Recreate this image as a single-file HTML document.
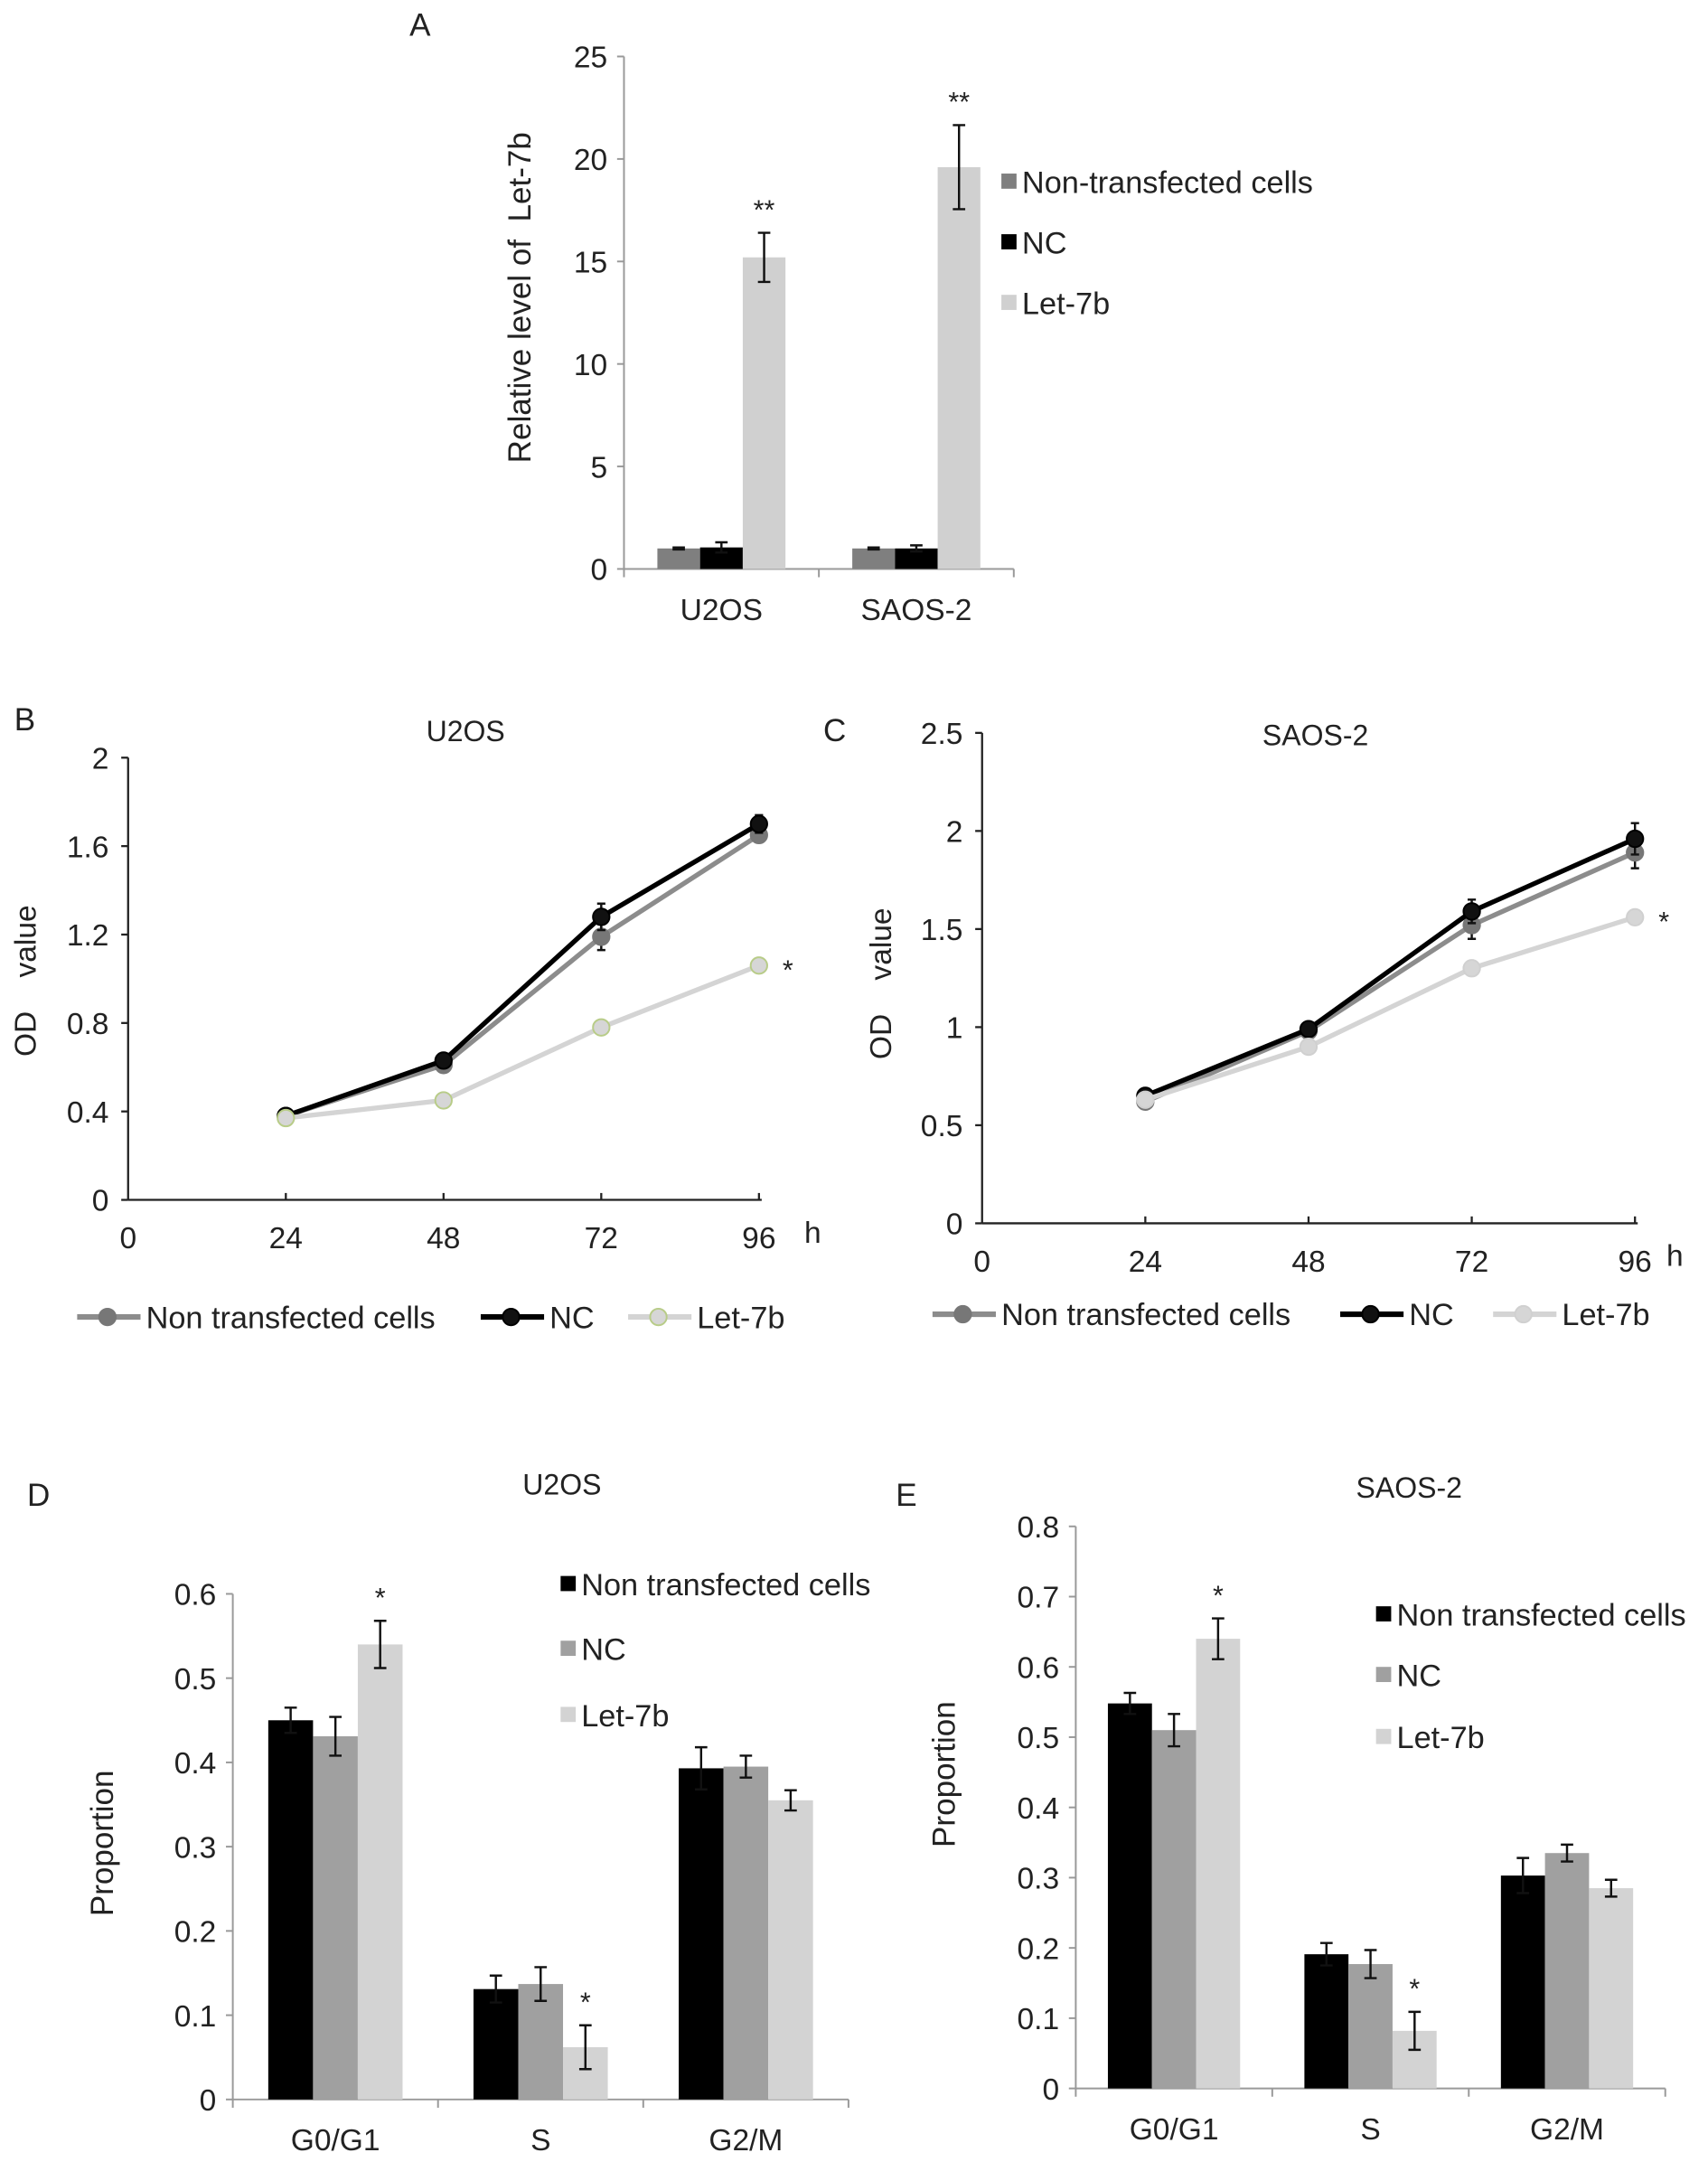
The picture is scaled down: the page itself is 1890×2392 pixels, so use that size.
<!DOCTYPE html>
<html><head><meta charset="utf-8"><style>
html,body{margin:0;padding:0;background:#fff}
svg{display:block}
text{font-family:"Liberation Sans",Arial,sans-serif;fill:#222;white-space:pre}
</style></head><body>
<svg id="fig" width="1890" height="2392" viewBox="0 0 1240 1569.4" xmlns="http://www.w3.org/2000/svg"></svg>
<script>
// ---- Panel A data ----
const aCategories = ["U2OS", "SAOS-2"];
const aNonTrans = [1.0, 1.0];
const aNonTransErr = [0.05, 0.05];
const aNC = [1.05, 1.0];
const aNCErr = [0.25, 0.15];
const aLet = [15.2, 19.6];
const aLetErr = [1.2, 2.05];
const aTicks = [0, 5, 10, 15, 20, 25];
// ---- Panel B data ----
const bHours = [24, 48, 72, 96];
const bNonTrans = [0.38, 0.61, 1.19, 1.65];
const bNonTransErr = [0.01, 0.02, 0.06, 0.03];
const bNC = [0.38, 0.63, 1.28, 1.70];
const bNCErr = [0.01, 0.02, 0.06, 0.04];
const bLet = [0.37, 0.45, 0.78, 1.06];
const bYTicks = [0, 0.4, 0.8, 1.2, 1.6, 2];
const bYLabels = ["0", "0.4", "0.8", "1.2", "1.6", "2"];
const xTicks = [0, 24, 48, 72, 96];
// ---- Panel C data ----
const cNonTrans = [0.62, 0.98, 1.52, 1.89];
const cNonTransErr = [0.02, 0.02, 0.07, 0.08];
const cNC = [0.65, 0.99, 1.59, 1.96];
const cNCErr = [0.02, 0.02, 0.06, 0.08];
const cLet = [0.63, 0.90, 1.30, 1.56];
const cYTicks = [0, 0.5, 1, 1.5, 2, 2.5];
const cYLabels = ["0", "0.5", "1", "1.5", "2", "2.5"];
// ---- Panel D data ----
const phases = ["G0/G1", "S", "G2/M"];
const dNonTrans = [0.45, 0.131, 0.393];
const dNonTransErr = [0.015, 0.016, 0.025];
const dNC = [0.431, 0.137, 0.395];
const dNCErr = [0.023, 0.02, 0.013];
const dLet = [0.54, 0.062, 0.355];
const dLetErr = [0.028, 0.026, 0.012];
const dTicks = [0, 0.1, 0.2, 0.3, 0.4, 0.5, 0.6];
// ---- Panel E data ----
const eNonTrans = [0.548, 0.191, 0.303];
const eNonTransErr = [0.015, 0.016, 0.025];
const eNC = [0.51, 0.177, 0.335];
const eNCErr = [0.023, 0.02, 0.012];
const eLet = [0.64, 0.082, 0.285];
const eLetErr = [0.029, 0.027, 0.012];
const eTicks = [0, 0.1, 0.2, 0.3, 0.4, 0.5, 0.6, 0.7, 0.8];

const NS = "http://www.w3.org/2000/svg";
const svg = document.getElementById("fig");
function el(tag, attrs, parent, txt) {
  const e = document.createElementNS(NS, tag);
  for (const k in attrs) e.setAttribute(k, attrs[k]);
  if (txt !== undefined) e.textContent = txt;
  (parent || svg).appendChild(e);
  return e;
}
function group(name) {
  const g = el("g", {});
  
  
  return g;
}
function txt(g, x, y, s, size, anchor, name, extra) {
  const t = el("text", Object.assign({x: x, y: y, "font-size": size, "text-anchor": anchor || "middle"}, extra || {}), g, s);
  
  
  return t;
}
function errbar(g, x, y1, y2, cap) {
  const e = el("path", {d: `M${x - cap} ${y1}H${x + cap}M${x} ${y1}V${y2}M${x - cap} ${y2}H${x + cap}`, stroke: "#111", "stroke-width": 1.6, fill: "none"}, g);
  
  
}

function barChart(o) {
  const g = group(o.name);
  const y = v => o.y0 - (v - o.ymin) / (o.ymax - o.ymin) * (o.y0 - o.y1);
  const cw = (o.x1 - o.x0) / o.cats.length;
  el("line", {x1: o.x0, y1: o.y1, x2: o.x0, y2: o.y0, stroke: "#999", "stroke-width": 1.3}, g);
  el("line", {x1: o.x0, y1: o.y0, x2: o.x1, y2: o.y0, stroke: "#999", "stroke-width": 1.3}, g);
  o.ticks.forEach(t => {
    el("line", {x1: o.x0 - 5, y1: y(t), x2: o.x0, y2: y(t), stroke: "#999", "stroke-width": 1.3}, g);
    txt(g, o.x0 - 12, y(t) + 8, o.tickFmt(t), 22, "end", "y-tick-label");
  });
  for (let i = 0; i <= o.cats.length; i++) {
    el("line", {x1: o.x0 + i * cw, y1: o.y0, x2: o.x0 + i * cw, y2: o.y0 + 6, stroke: "#999", "stroke-width": 1.3}, g);
  }
  o.cats.forEach((c, i) => {
    const cx = o.x0 + cw * (i + 0.5);
    txt(g, cx, o.y0 + 37, c, 22, "middle", "x-tick-label");
    o.series.forEach((s, j) => {
      const bx = cx - 1.5 * o.bw + j * o.bw;
      const v = s.vals[i];
      const r = el("rect", {x: bx, y: y(v), width: o.bw, height: o.y0 - y(v), fill: s.color}, g);
      
      
      const e = s.err[i];
      errbar(g, bx + o.bw / 2, y(v + e), y(v - e), 4.5);
      if (s.stars && s.stars[i]) txt(g, bx + o.bw / 2, y(v + e) - 10, s.stars[i], 20, "middle", "significance-mark", {fill: "#666"});
    });
  });
  return g;
}

function lineChart(o) {
  const g = group(o.name);
  const x = v => o.x0 + v / 96 * (o.x1 - o.x0);
  const y = v => o.y0 - v / o.ymax * (o.y0 - o.y1);
  el("line", {x1: o.x0, y1: o.y1, x2: o.x0, y2: o.y0, stroke: "#222", "stroke-width": 1.5}, g);
  el("line", {x1: o.x0, y1: o.y0, x2: o.x1 + 2, y2: o.y0, stroke: "#222", "stroke-width": 1.5}, g);
  o.yTicks.forEach((t, i) => {
    el("line", {x1: o.x0 - 5, y1: y(t), x2: o.x0, y2: y(t), stroke: "#222", "stroke-width": 1.5}, g);
    txt(g, o.x0 - 14, y(t) + 8, o.yLabels[i], 22, "end", "y-tick-label");
  });
  xTicks.forEach(t => {
    if (t > 0) el("line", {x1: x(t), y1: o.y0 - 5, x2: x(t), y2: o.y0, stroke: "#222", "stroke-width": 1.5}, g);
    txt(g, x(t), o.y0 + 35, String(t), 22, "middle", "x-tick-label");
  });
  txt(g, o.x1 + o.hdx, o.y0 + 31, "h", 22, "middle", "x-axis-unit");
  o.series.forEach(s => {
    const pts = bHours.map((h, i) => `${x(h)},${y(s.vals[i])}`).join(" ");
    const pl = el("polyline", {points: pts, fill: "none", stroke: s.color, "stroke-width": 3.5}, g);
    
    
    bHours.forEach((h, i) => {
      if (s.err) errbar(g, x(h), y(s.vals[i] + s.err[i]), y(s.vals[i] - s.err[i]), 3);
      const c = el("circle", {cx: x(h), cy: y(s.vals[i]), r: 6, fill: s.fill, stroke: s.stroke, "stroke-width": 1.3}, g);
      
      
    });
  });
  const last = o.series[2].vals[3];
  txt(g, x(96) + 21, y(last) + 10, "*", 20, "middle", "significance-mark", {fill: "#555"});
  return g;
}

function legendLine(g, x, y, color, fill, stroke, label, key) {
  const lg = el("g", {}, g);
  
  
  el("line", {x1: x, y1: y, x2: x + 46, y2: y, stroke: color, "stroke-width": 4}, lg);
  el("circle", {cx: x + 22, cy: y, r: 6, fill: fill, stroke: stroke, "stroke-width": 1.3}, lg);
  txt(lg, x + 50, y + 8, label, 22.5, "start", "legend-label");
}
function legendSq(g, x, y, color, label, key) {
  const lg = el("g", {}, g);
  
  
  el("rect", {x: x, y: y - 6, width: 11, height: 11, fill: color}, lg);
  txt(lg, x + 15, y + 8, label, 22.5, "start", "legend-label");
}

// Panel A
const gA = barChart({name: "panel-a-chart", cats: aCategories, x0: 453, x1: 736, y0: 413, y1: 41, ymin: 0, ymax: 25, bw: 31,
  ticks: aTicks, tickFmt: t => String(t),
  series: [
    {key: "non-transfected", vals: aNonTrans, err: aNonTransErr, color: "#7f7f7f"},
    {key: "nc", vals: aNC, err: aNCErr, color: "#000"},
    {key: "let-7b", vals: aLet, err: aLetErr, color: "#d0d0d0", stars: ["**", "**"]}]});
txt(gA, 305, 26, "A", 23, "middle", "panel-label-a");
txt(gA, 385, 216, "Relative level of  Let-7b", 23, "middle", "y-axis-title", {transform: "rotate(-90 385 216)"});
legendSq(gA, 727, 132, "#7f7f7f", "Non-transfected cells", "non-transfected");
legendSq(gA, 727, 176, "#000", "NC", "nc");
legendSq(gA, 727, 220, "#d0d0d0", "Let-7b", "let-7b");

// Panel B
const gB = lineChart({name: "panel-b-chart", x0: 93, x1: 551, y0: 871, y1: 550, ymax: 2, yTicks: bYTicks, yLabels: bYLabels, hdx: 39,
  series: [
    {key: "non-transfected", vals: bNonTrans, err: bNonTransErr, color: "#8c8c8c", fill: "#777", stroke: "#777"},
    {key: "nc", vals: bNC, err: bNCErr, color: "#000", fill: "#111", stroke: "#000"},
    {key: "let-7b", vals: bLet, color: "#d4d4d4", fill: "#d6d6d6", stroke: "#b8cc88"}]});
txt(gB, 18, 530, "B", 23, "middle", "panel-label-b");
txt(gB, 338, 538, "U2OS", 21, "middle", "chart-title");
txt(gB, 26, 712, "OD    value", 22, "middle", "y-axis-title", {transform: "rotate(-90 26 712)"});
legendLine(gB, 56, 956, "#8c8c8c", "#777", "#777", "Non transfected cells", "non-transfected");
legendLine(gB, 349, 956, "#000", "#111", "#000", "NC", "nc");
legendLine(gB, 456, 956, "#d4d4d4", "#d6d6d6", "#b8cc88", "Let-7b", "let-7b");

// Panel C
const gC = lineChart({name: "panel-c-chart", x0: 713, x1: 1187, y0: 888, y1: 532, ymax: 2.5, yTicks: cYTicks, yLabels: cYLabels, hdx: 29,
  series: [
    {key: "non-transfected", vals: cNonTrans, err: cNonTransErr, color: "#8c8c8c", fill: "#777", stroke: "#777"},
    {key: "nc", vals: cNC, err: cNCErr, color: "#000", fill: "#111", stroke: "#000"},
    {key: "let-7b", vals: cLet, color: "#d4d4d4", fill: "#d6d6d6", stroke: "#d0d0d0"}]});
txt(gC, 606, 538, "C", 23, "middle", "panel-label-c");
txt(gC, 955, 541, "SAOS-2", 21, "middle", "chart-title");
txt(gC, 647, 714, "OD    value", 22, "middle", "y-axis-title", {transform: "rotate(-90 647 714)"});
legendLine(gC, 677, 954, "#8c8c8c", "#777", "#777", "Non transfected cells", "non-transfected");
legendLine(gC, 973, 954, "#000", "#111", "#000", "NC", "nc");
legendLine(gC, 1084, 954, "#d4d4d4", "#d6d6d6", "#d0d0d0", "Let-7b", "let-7b");

// Panel D
const gD = barChart({name: "panel-d-chart", cats: phases, x0: 169, x1: 616, y0: 1524, y1: 1157, ymin: 0, ymax: 0.6, bw: 32.5,
  ticks: dTicks, tickFmt: t => t === 0 ? "0" : t.toFixed(1),
  series: [
    {key: "non-transfected", vals: dNonTrans, err: dNonTransErr, color: "#000"},
    {key: "nc", vals: dNC, err: dNCErr, color: "#a0a0a0"},
    {key: "let-7b", vals: dLet, err: dLetErr, color: "#d3d3d3", stars: ["*", "*", ""]}]});
txt(gD, 28, 1093, "D", 23, "middle", "panel-label-d");
txt(gD, 408, 1085, "U2OS", 21, "middle", "chart-title");
txt(gD, 82, 1338, "Proportion", 23, "middle", "y-axis-title", {transform: "rotate(-90 82 1338)"});
legendSq(gD, 407, 1150, "#000", "Non transfected cells", "non-transfected");
legendSq(gD, 407, 1197, "#a0a0a0", "NC", "nc");
legendSq(gD, 407, 1245, "#d3d3d3", "Let-7b", "let-7b");

// Panel E
const gE = barChart({name: "panel-e-chart", cats: phases, x0: 781, x1: 1209, y0: 1516, y1: 1108, ymin: 0, ymax: 0.8, bw: 32,
  ticks: eTicks, tickFmt: t => t === 0 ? "0" : t.toFixed(1),
  series: [
    {key: "non-transfected", vals: eNonTrans, err: eNonTransErr, color: "#000"},
    {key: "nc", vals: eNC, err: eNCErr, color: "#a0a0a0"},
    {key: "let-7b", vals: eLet, err: eLetErr, color: "#d3d3d3", stars: ["*", "*", ""]}]});
txt(gE, 658, 1093, "E", 23, "middle", "panel-label-e");
txt(gE, 1023, 1087, "SAOS-2", 21, "middle", "chart-title");
txt(gE, 693, 1288, "Proportion", 23, "middle", "y-axis-title", {transform: "rotate(-90 693 1288)"});
legendSq(gE, 999, 1172, "#000", "Non transfected cells", "non-transfected");
legendSq(gE, 999, 1216, "#a0a0a0", "NC", "nc");
legendSq(gE, 999, 1261, "#d3d3d3", "Let-7b", "let-7b");
</script>
</body></html>
